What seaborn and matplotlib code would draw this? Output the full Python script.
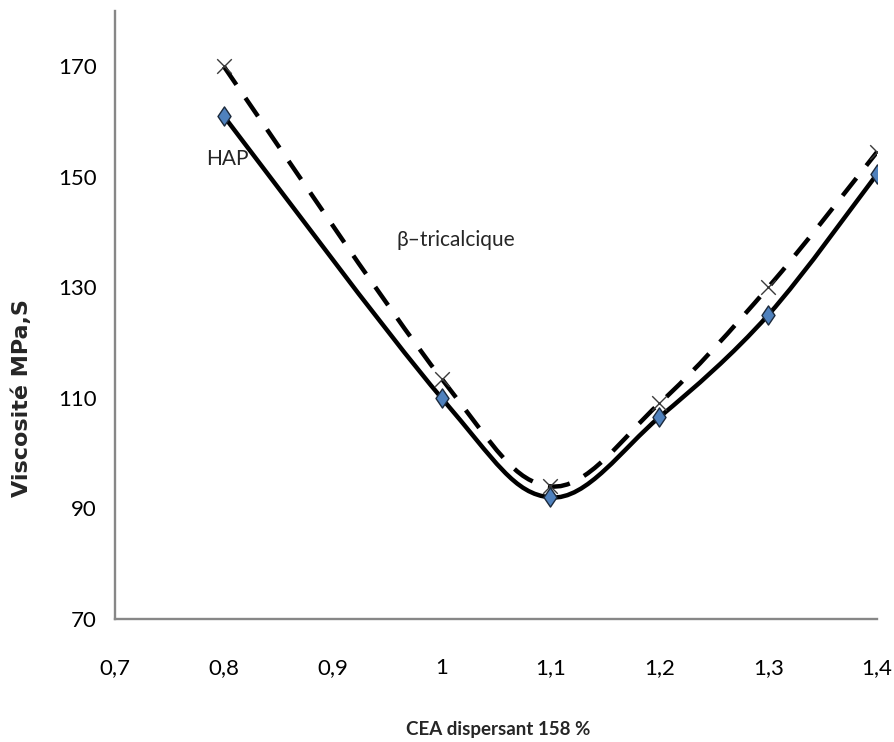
import numpy as np
import pandas as pd
import matplotlib
matplotlib.use("Agg")
import matplotlib.pyplot as plt
from matplotlib.path import Path
from matplotlib.patches import PathPatch
from matplotlib.ticker import FuncFormatter
import seaborn as sns

# Dispersant dosage (%) and measured viscosity for both powders
dosage = [0.8, 1.0, 1.1, 1.2, 1.3, 1.4]
visc_hap = [161, 110, 92, 106.5, 125, 150.5]
visc_tcp = [170, 113.5, 94, 109, 130, 154.5]

x_ticks = [0.7, 0.8, 0.9, 1.0, 1.1, 1.2, 1.3, 1.4]
y_ticks = [70, 90, 110, 130, 150, 170]

sns.set_theme(style="white")
NARROW = ["Lato", "DejaVu Sans"]
plt.rcParams["font.family"] = NARROW

df = pd.DataFrame({"dosage": dosage, "HAP": visc_hap, "TCP": visc_tcp})

fig = plt.figure(figsize=(8.94, 7.42), dpi=100)
ax = fig.add_axes([0.1286, 0.1658, 0.981 - 0.1286, 0.985 - 0.1658])


def smooth_path(xs, ys):
    """Cardinal (Catmull-Rom style) Bezier through the points, as spreadsheet 'smoothed lines'."""
    pts = np.column_stack([xs, ys]).astype(float)
    n = len(pts)
    verts = [pts[0]]
    codes = [Path.MOVETO]
    for i in range(n - 1):
        p0 = pts[i - 1] if i > 0 else pts[i]
        p1 = pts[i]
        p2 = pts[i + 1]
        p3 = pts[i + 2] if i + 2 < n else pts[i + 1]
        c1 = p1 + (p2 - p0) / 6.0
        c2 = p2 - (p3 - p1) / 6.0
        verts += [c1, c2, p2]
        codes += [Path.CURVE4] * 3
    return Path(verts, codes)


# Dashed curve: beta-tricalcium phosphate
ax.add_patch(PathPatch(smooth_path(df["dosage"], df["TCP"]), fill=False,
                       edgecolor="black", linewidth=3.2, linestyle=(0, (5.0, 3.6)),
                       capstyle="butt", zorder=2))
# Solid curve: hydroxyapatite
ax.add_patch(PathPatch(smooth_path(df["dosage"], df["HAP"]), fill=False,
                       edgecolor="black", linewidth=3.2, zorder=3))

diamond = Path([(0, 1), (0.68, 0), (0, -1), (-0.68, 0), (0, 1)],
               [Path.MOVETO, Path.LINETO, Path.LINETO, Path.LINETO, Path.CLOSEPOLY])

sns.scatterplot(data=df, x="dosage", y="TCP", marker="x", s=110, color="#3a3a3a",
                linewidth=1.0, ax=ax, zorder=4)
sns.scatterplot(data=df, x="dosage", y="HAP", marker=diamond, s=190, color="#4f81bd",
                edgecolor="#1c2a3c", linewidth=1.0, ax=ax, zorder=5)

ax.set_xlim(0.7, 1.4)
ax.set_ylim(70, 180)
ax.set_xticks(x_ticks)
ax.set_yticks(y_ticks)


def fr_format(v, pos):
    s = f"{v:.1f}".rstrip("0").rstrip(".")
    return s.replace(".", ",")


ax.xaxis.set_major_formatter(FuncFormatter(fr_format))
ax.yaxis.set_major_formatter(FuncFormatter(lambda v, p: f"{v:.0f}"))

for side in ("top", "right"):
    ax.spines[side].set_visible(False)
for side in ("left", "bottom"):
    ax.spines[side].set_color("#878787")
    ax.spines[side].set_linewidth(1.7)

ax.tick_params(axis="y", direction="in", length=5, width=1.1, color="#878787",
               pad=13, labelsize=16, labelcolor="black")
ax.tick_params(axis="x", direction="in", length=7, width=1.1, color="#878787",
               pad=28, labelsize=16, labelcolor="black")
ax.set_xlabel("")
ax.set_ylabel("")

fig.text(0.557, 1 - 730 / 742, "CEA dispersant 158 %", ha="center", va="center",
         fontsize=13.5, fontweight="bold")
fig.text(22 / 894, 1 - 398 / 742, "Viscosité MPa,S", ha="center", va="center",
         rotation=90, fontsize=16, fontweight="bold", family="DejaVu Sans")

ax.text(0.8035, 153.2, "HAP", ha="center", va="center", fontsize=15)
ax.text(1.013, 138.6, "β–tricalcique", ha="center", va="center", fontsize=15,
        family=NARROW)

fig.savefig("out.png", dpi=100)
